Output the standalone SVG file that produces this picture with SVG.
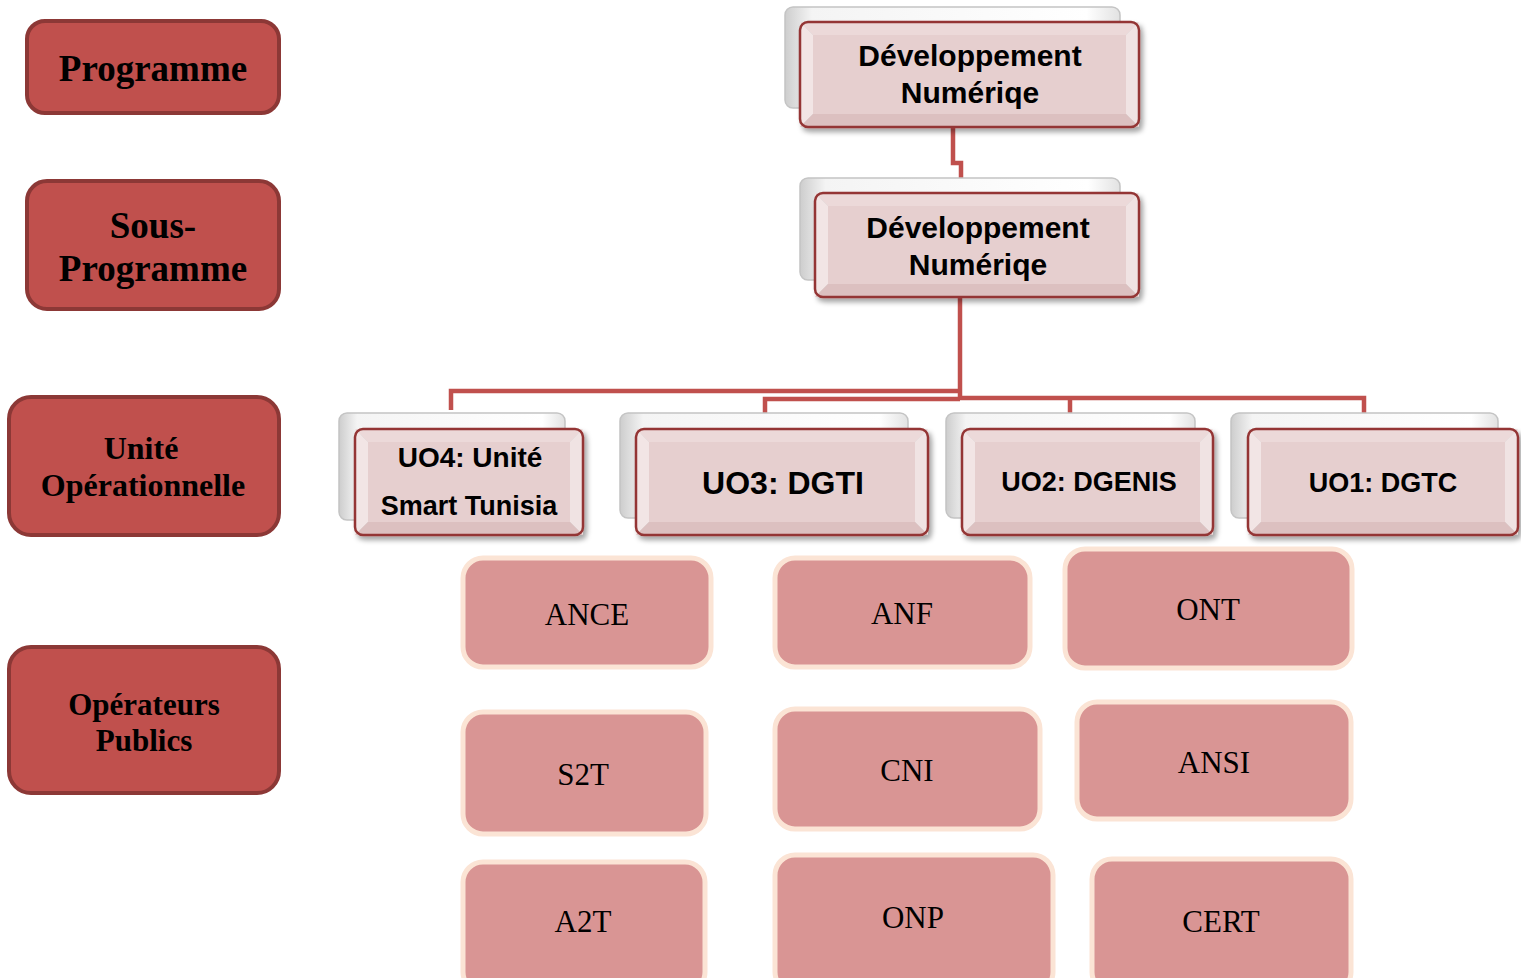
<svg xmlns="http://www.w3.org/2000/svg" width="1521" height="978" viewBox="0 0 1521 978">
<defs>
  <filter id="sh" x="-10%" y="-10%" width="125%" height="130%">
    <feDropShadow dx="3" dy="4" stdDeviation="2.5" flood-color="#000" flood-opacity="0.35"/>
  </filter>
  <linearGradient id="card" x1="0" y1="0" x2="1" y2="0">
    <stop offset="0" stop-color="#cdcdcd"/>
    <stop offset="0.08" stop-color="#f4f4f4"/>
    <stop offset="0.9" stop-color="#ffffff"/>
    <stop offset="1" stop-color="#e2e2e2"/>
  </linearGradient>
</defs>
<style>
  .card{fill:url(#card);stroke:#c4c4c4;stroke-width:1.5}
  .bt{fill:#ecd9d9}
  .bl{fill:#f2e5e5}
  .br{fill:#f0e3e3}
  .bb{fill:#dcc0c0}
  .face{fill:#e6cfcf}
  .edge{fill:none;stroke:#943634;stroke-width:2.5}
  .ut{font-family:"Liberation Sans",Arial,sans-serif;font-weight:bold;fill:#000;text-anchor:middle}
  .lab{fill:#c0504d;stroke:#8c3836;stroke-width:4}
  .lt{font-family:"Liberation Serif","Times New Roman",serif;font-weight:bold;fill:#000;text-anchor:middle}
  .op{fill:#d99594;stroke:#fbe4d5;stroke-width:5}
  .ot{font-family:"Liberation Serif","Times New Roman",serif;font-size:31px;fill:#000;text-anchor:middle}
  .con{fill:none;stroke:#c0504d;stroke-width:4.5}
</style>
<rect width="1521" height="978" fill="#fff"/>

<!-- left labels -->
<g id="lab-programme">
  <rect class="lab" x="27" y="21" width="252" height="92" rx="18"/>
  <text class="lt" x="153" y="81" font-size="37">Programme</text>
</g>
<g id="lab-sousprogramme">
  <rect class="lab" x="27" y="181" width="252" height="128" rx="20"/>
  <text class="lt" x="153" y="238" font-size="37">Sous-</text>
  <text class="lt" x="153" y="281" font-size="37">Programme</text>
</g>
<g id="lab-unite">
  <rect class="lab" x="9" y="397" width="270" height="138" rx="22"/>
  <text class="lt" x="141" y="459" font-size="32">Unité</text>
  <text class="lt" x="143" y="496" font-size="32">Opérationnelle</text>
</g>
<g id="lab-operateurs">
  <rect class="lab" x="9" y="647" width="270" height="146" rx="22"/>
  <text class="lt" x="144" y="715" font-size="31">Opérateurs</text>
  <text class="lt" x="144" y="751" font-size="31">Publics</text>
</g>

<!-- connectors -->
<g id="connectors">
  <path class="con" d="M953,118 V163 H961 V190"/>
  <path class="con" d="M960,290 V399"/>
  <path class="con" d="M451,410 V391 H960"/>
  <path class="con" d="M765,416 V399 H960"/>
  <path class="con" d="M958,398 H1364 V416"/>
  <path class="con" d="M1070,398 V416"/>
</g>

<!-- Programme node -->
<g id="n-programme">
  <rect class="card" x="785" y="7" width="335" height="101" rx="8"/>
  <g transform="translate(800,22)" filter="url(#sh)">
    <polygon class="bt" points="0,0 339,0 326,13 13,13"/>
    <polygon class="bl" points="0,0 13,13 13,92 0,105"/>
    <polygon class="br" points="339,0 339,105 326,92 326,13"/>
    <polygon class="bb" points="0,105 13,92 326,92 339,105"/>
    <rect class="face" x="13" y="13" width="313" height="79"/>
    <rect class="edge" x="0" y="0" width="339" height="105" rx="8"/>
  </g>
  <text class="ut" x="970" y="66" font-size="30">Développement</text>
  <text class="ut" x="970" y="103" font-size="30">Numériqe</text>
</g>

<!-- Sous-programme node -->
<g id="n-sousprogramme">
  <rect class="card" x="800" y="178" width="320" height="102" rx="8"/>
  <g transform="translate(815,193)" filter="url(#sh)">
    <polygon class="bt" points="0,0 324,0 311,13 13,13"/>
    <polygon class="bl" points="0,0 13,13 13,91 0,104"/>
    <polygon class="br" points="324,0 324,104 311,91 311,13"/>
    <polygon class="bb" points="0,104 13,91 311,91 324,104"/>
    <rect class="face" x="13" y="13" width="298" height="78"/>
    <rect class="edge" x="0" y="0" width="324" height="104" rx="8"/>
  </g>
  <text class="ut" x="978" y="238" font-size="30">Développement</text>
  <text class="ut" x="978" y="275" font-size="30">Numériqe</text>
</g>

<!-- UO4 -->
<g id="n-uo4">
  <rect class="card" x="339" y="413" width="226" height="107" rx="8"/>
  <g transform="translate(355,429)" filter="url(#sh)">
    <polygon class="bt" points="0,0 228,0 215,13 13,13"/>
    <polygon class="bl" points="0,0 13,13 13,93 0,106"/>
    <polygon class="br" points="228,0 228,106 215,93 215,13"/>
    <polygon class="bb" points="0,106 13,93 215,93 228,106"/>
    <rect class="face" x="13" y="13" width="202" height="80"/>
    <rect class="edge" x="0" y="0" width="228" height="106" rx="8"/>
  </g>
  <text class="ut" x="470" y="467" font-size="28">UO4: Unité</text>
  <text class="ut" x="469" y="515" font-size="27">Smart Tunisia</text>
</g>

<!-- UO3 -->
<g id="n-uo3">
  <rect class="card" x="620" y="413" width="288" height="105" rx="8"/>
  <g transform="translate(636,429)" filter="url(#sh)">
    <polygon class="bt" points="0,0 292,0 279,13 13,13"/>
    <polygon class="bl" points="0,0 13,13 13,93 0,106"/>
    <polygon class="br" points="292,0 292,106 279,93 279,13"/>
    <polygon class="bb" points="0,106 13,93 279,93 292,106"/>
    <rect class="face" x="13" y="13" width="266" height="80"/>
    <rect class="edge" x="0" y="0" width="292" height="106" rx="8"/>
  </g>
  <text class="ut" x="783" y="494" font-size="32">UO3: DGTI</text>
</g>

<!-- UO2 -->
<g id="n-uo2">
  <rect class="card" x="946" y="413" width="249" height="105" rx="8"/>
  <g transform="translate(962,429)" filter="url(#sh)">
    <polygon class="bt" points="0,0 251,0 238,13 13,13"/>
    <polygon class="bl" points="0,0 13,13 13,93 0,106"/>
    <polygon class="br" points="251,0 251,106 238,93 238,13"/>
    <polygon class="bb" points="0,106 13,93 238,93 251,106"/>
    <rect class="face" x="13" y="13" width="225" height="80"/>
    <rect class="edge" x="0" y="0" width="251" height="106" rx="8"/>
  </g>
  <text class="ut" x="1089" y="491" font-size="27">UO2: DGENIS</text>
</g>

<!-- UO1 -->
<g id="n-uo1">
  <rect class="card" x="1231" y="413" width="267" height="105" rx="8"/>
  <g transform="translate(1248,429)" filter="url(#sh)">
    <polygon class="bt" points="0,0 270,0 257,13 13,13"/>
    <polygon class="bl" points="0,0 13,13 13,93 0,106"/>
    <polygon class="br" points="270,0 270,106 257,93 257,13"/>
    <polygon class="bb" points="0,106 13,93 257,93 270,106"/>
    <rect class="face" x="13" y="13" width="244" height="80"/>
    <rect class="edge" x="0" y="0" width="270" height="106" rx="8"/>
  </g>
  <text class="ut" x="1383" y="492" font-size="27">UO1: DGTC</text>
</g>

<!-- Operateurs -->
<g id="n-ance"><rect class="op" x="463" y="558" width="248" height="109" rx="20"/><text class="ot" x="587" y="625">ANCE</text></g>
<g id="n-anf"><rect class="op" x="775" y="558" width="255" height="109" rx="20"/><text class="ot" x="902" y="624">ANF</text></g>
<g id="n-ont"><rect class="op" x="1065" y="549" width="287" height="119" rx="20"/><text class="ot" x="1208" y="620">ONT</text></g>
<g id="n-s2t"><rect class="op" x="463" y="712" width="243" height="122" rx="20"/><text class="ot" x="583" y="785">S2T</text></g>
<g id="n-cni"><rect class="op" x="775" y="709" width="265" height="120" rx="20"/><text class="ot" x="907" y="781">CNI</text></g>
<g id="n-ansi"><rect class="op" x="1077" y="702" width="274" height="117" rx="20"/><text class="ot" x="1214" y="773">ANSI</text></g>
<g id="n-a2t"><rect class="op" x="463" y="862" width="242" height="130" rx="20"/><text class="ot" x="583" y="932">A2T</text></g>
<g id="n-onp"><rect class="op" x="775" y="855" width="278" height="137" rx="20"/><text class="ot" x="913" y="928">ONP</text></g>
<g id="n-cert"><rect class="op" x="1092" y="859" width="259" height="133" rx="20"/><text class="ot" x="1221" y="932">CERT</text></g>
</svg>
